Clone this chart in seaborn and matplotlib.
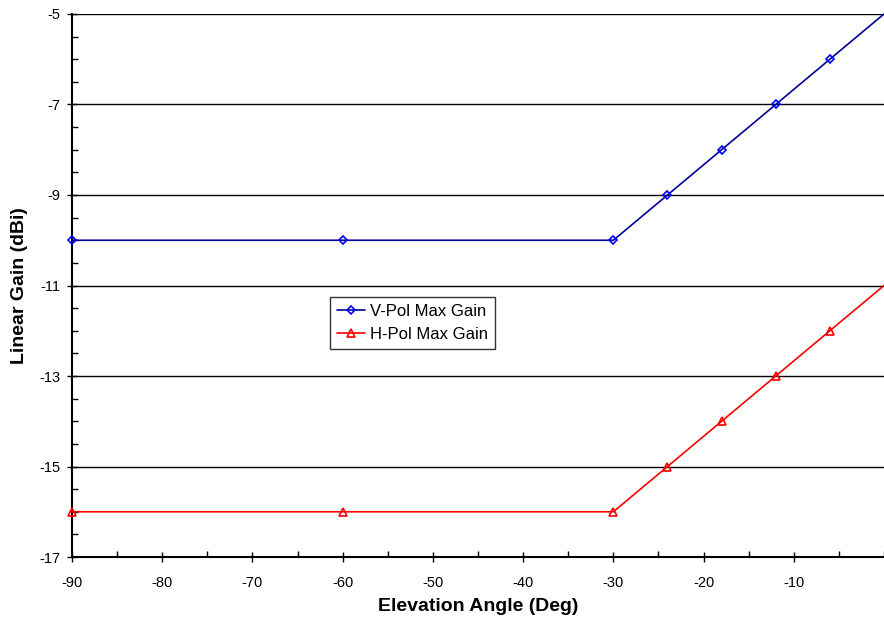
import numpy as np
import pandas as pd
import matplotlib
matplotlib.use("Agg")
import matplotlib.pyplot as plt
import seaborn as sns
from matplotlib.ticker import MultipleLocator

# Data
angle = [-90, -60, -30, -24, -18, -12, -6, 0]
vpol_gain = [-10, -10, -10, -9, -8, -7, -6, -5]
hpol_gain = [-16, -16, -16, -15, -14, -13, -12, -11]
series_names = ["V-Pol Max Gain", "H-Pol Max Gain"]

sns.set_style("white")
plt.rcParams["font.family"] = ["Liberation Sans", "DejaVu Sans"]
plt.rcParams["axes.unicode_minus"] = False
plt.rcParams["text.color"] = "black"
plt.rcParams["axes.labelcolor"] = "black"
plt.rcParams["xtick.color"] = "black"
plt.rcParams["ytick.color"] = "black"

df = pd.concat([
    pd.DataFrame({"angle": angle, "gain": vpol_gain, "series": series_names[0]}),
    pd.DataFrame({"angle": angle, "gain": hpol_gain, "series": series_names[1]}),
])

fig = plt.figure(figsize=(8.84, 6.21), dpi=100)
ax = fig.add_axes([0.0815, 0.103, 0.9185, 0.8745])

# horizontal grid lines
for yv in np.arange(-17, -4, 2):
    ax.axhline(yv, color="black", lw=1.0, zorder=1)

# markers at the right edge are cut off in the original
shown = list(range(len(angle) - 1))

sns.lineplot(data=df[df.series == series_names[0]], x="angle", y="gain", ax=ax,
             color="#000099", lw=1.2, marker="D", markersize=4.5, markevery=shown,
             markerfacecolor="none", markeredgecolor="#0000ff", markeredgewidth=1.2,
             label=series_names[0], zorder=3, clip_on=False)
sns.lineplot(data=df[df.series == series_names[1]], x="angle", y="gain", ax=ax,
             color="#ff0000", lw=1.2, marker="^", markersize=6, markevery=shown,
             markerfacecolor="none", markeredgecolor="#ff0000", markeredgewidth=1.2,
             label=series_names[1], zorder=3, clip_on=False)

ax.set_xlim(-90, 0)
ax.set_ylim(-17, -5)
ax.xaxis.set_minor_locator(MultipleLocator(5))
ax.yaxis.set_minor_locator(MultipleLocator(0.5))
ax.set_xticks(np.arange(-90, 0, 10))
ax.set_yticks(np.arange(-17, -4, 2))

ax.tick_params(which="major", direction="inout", length=7, width=1, labelsize=10.5,
               color="black", labelcolor="black")
ax.tick_params(axis="x", which="major", pad=10)
ax.tick_params(axis="y", which="major", pad=5)
ax.tick_params(which="minor", direction="in", length=4, width=1, color="black")
ax.tick_params(axis="y", which="both", left=True)
ax.tick_params(axis="x", which="both", bottom=True)

for side in ["top", "right"]:
    ax.spines[side].set_visible(False)
for side in ["left", "bottom"]:
    ax.spines[side].set_color("black")
    ax.spines[side].set_linewidth(1.5)

ax.set_xlabel("Elevation Angle (Deg)", fontsize=14, fontweight="bold", labelpad=6)
ax.set_ylabel("Linear Gain (dBi)", fontsize=14, fontweight="bold", labelpad=8)

leg = ax.legend(loc="upper left", bbox_to_anchor=(0.318, 0.479), fontsize=12,
                frameon=True, fancybox=False, borderpad=0.4, handlelength=1.7,
                handletextpad=0.3, labelspacing=0.5, borderaxespad=0)
leg.get_frame().set_edgecolor("black")
leg.get_frame().set_linewidth(1.0)

fig.savefig("out.png", dpi=100)
